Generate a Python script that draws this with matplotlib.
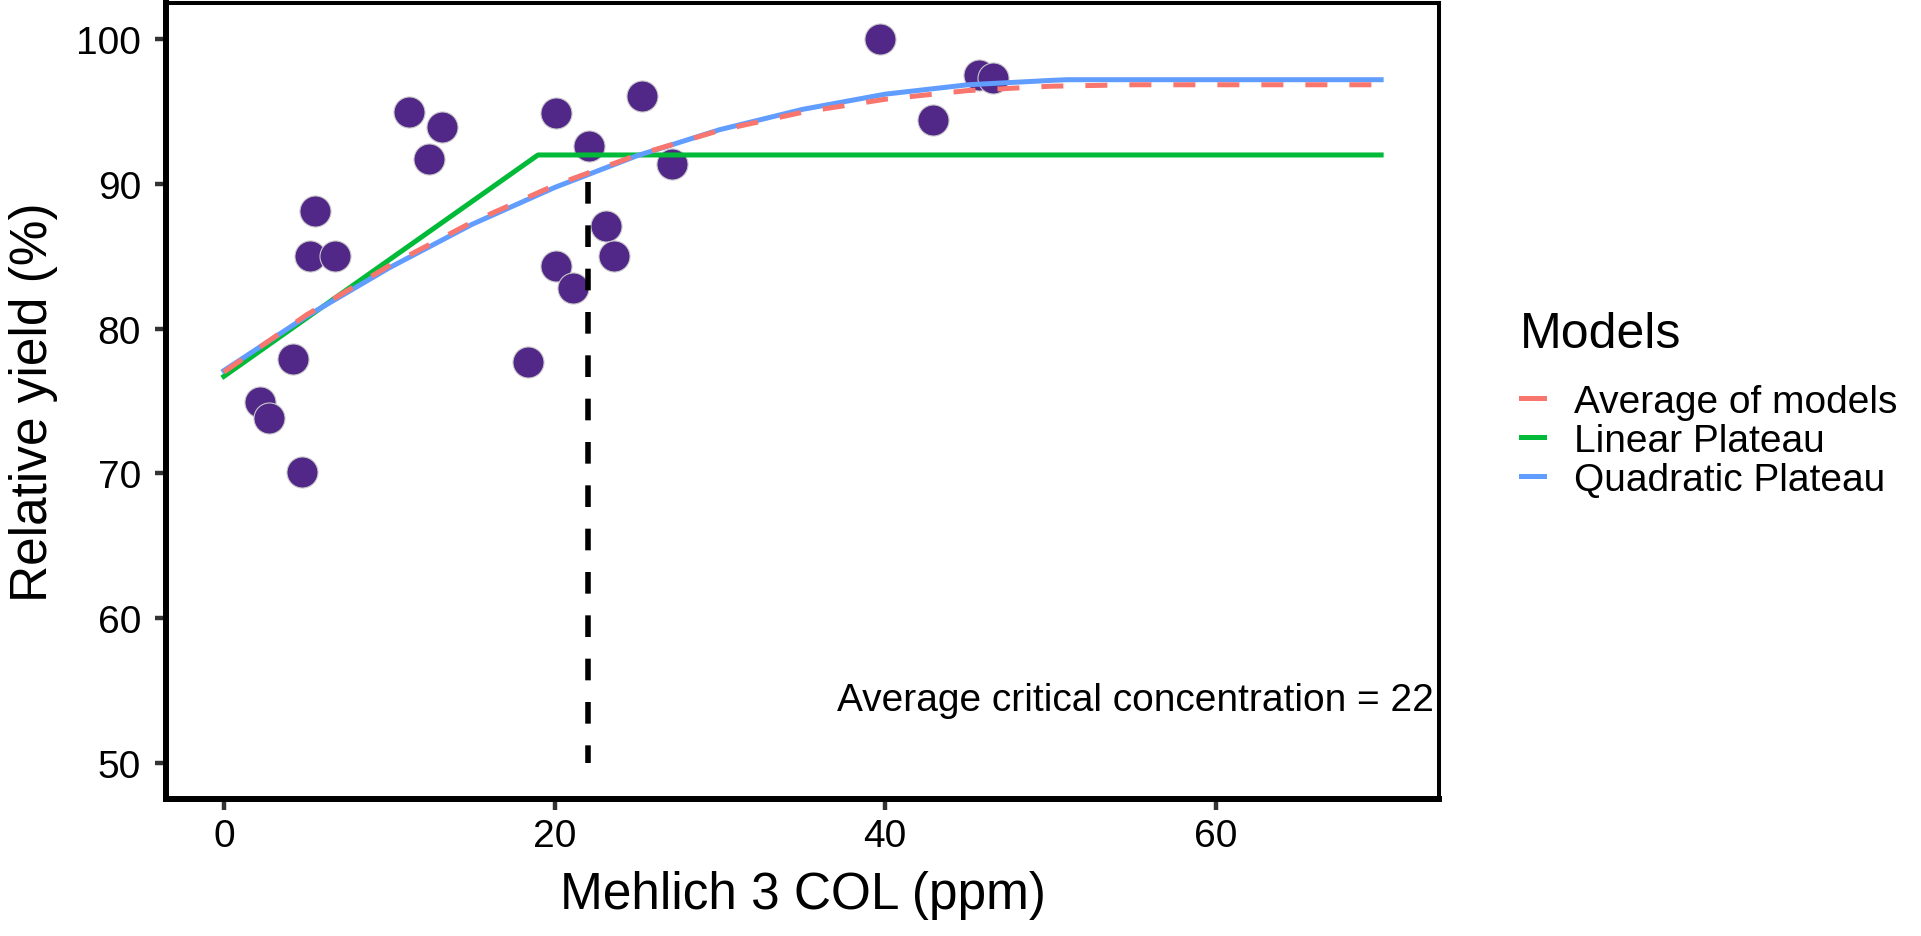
import numpy as np
import matplotlib
matplotlib.use("Agg")
import matplotlib.pyplot as plt
from matplotlib.lines import Line2D

plt.rcParams['font.family'] = ['Liberation Sans', 'DejaVu Sans']

# observed data: Mehlich 3 COL (ppm) vs relative yield (%)
stp = [2.2, 2.7, 4.2, 4.7, 5.5, 5.2, 6.7, 11.2, 13.2, 12.4, 20.1, 22.1, 25.3, 27.1,
       23.1, 23.6, 20.1, 21.1, 18.4, 39.7, 45.7, 46.5, 42.9]
ry = [74.9, 73.8, 77.9, 70.1, 88.1, 85.0, 85.0, 95.0, 93.9, 91.7, 94.9, 92.6, 96.1, 91.4,
      87.1, 85.0, 84.3, 82.8, 77.7, 100.0, 97.5, 97.3, 94.4]

# fitted model curves
lp_x = [0, 19, 70]
lp_y = [76.7, 92.0, 92.0]

qp_x = [0, 5, 10, 15, 20, 25, 30, 35, 40, 45, 50, 51, 70]
qp_y = [77.1, 80.85, 84.2, 87.2, 89.75, 91.95, 93.75, 95.15, 96.2, 96.85, 97.15, 97.2, 97.2]

avg_x = [0, 5, 10, 15, 20, 25, 30, 35, 40, 45, 50, 55, 70]
avg_y = [77.0, 80.95, 84.35, 87.35, 89.9, 92.0, 93.7, 94.95, 95.85, 96.45, 96.75, 96.85, 96.85]

crit_x = 22
crit_top = 90.1
crit_bottom = 50

model_names = ["Average of models", "Linear Plateau", "Quadratic Plateau"]
model_colors = ["#F8766D", "#00BA38", "#619CFF"]

W, H = 1921, 937
fig = plt.figure(figsize=(W / 100, H / 100), dpi=100)
ax = fig.add_axes([166 / W, 137 / H, (1439 - 166) / W, (800 - 4) / H])

ax.scatter(stp, ry, s=500, color="#512888", edgecolor="#c8c8c8", linewidth=0.8, zorder=2)

ax.plot(lp_x, lp_y, color=model_colors[1], lw=3.6, zorder=3)
ax.plot(qp_x, qp_y, color=model_colors[2], lw=3.6, zorder=4)
ax.plot(avg_x, avg_y, color=model_colors[0], lw=3.6, dashes=(4.4, 4.4), zorder=5)
ax.plot([crit_x, crit_x], [crit_top, crit_bottom], color="black", lw=4, dashes=(3.9, 3.9), zorder=6)

ax.text(73.2, 53.65, f"Average critical concentration = {crit_x}", ha="right", va="baseline",
        fontsize=28, color="black")

ax.set_xlim(-3.5, 73.5)
ax.set_ylim(47.5, 102.5)
ax.set_xticks([0, 20, 40, 60])
ax.set_yticks([50, 60, 70, 80, 90, 100])

for side in ["left", "bottom"]:
    ax.spines[side].set_linewidth(4.3)
for side in ["top", "right"]:
    ax.spines[side].set_linewidth(2.9)
for sp in ax.spines.values():
    sp.set_color("black")

ax.tick_params(axis="both", length=8, width=3.2, color="#333333", labelsize=28, labelcolor="black")
ax.tick_params(axis="x", pad=6)
ax.tick_params(axis="y", pad=10)

ax.set_xlabel("Mehlich 3 COL (ppm)", fontsize=37, labelpad=11)
ax.set_ylabel("Relative yield (%)", fontsize=37, labelpad=13)

# legend, laid out by hand to match the ggplot guide spacing
fig.text(1520 / W, 1 - 348 / H, "Models", fontsize=36, ha="left", va="baseline")
for i, (name, col) in enumerate(zip(model_names, model_colors)):
    yc = 399 + 39 * i
    fig.add_artist(Line2D([1521 / W, 1544 / W], [1 - yc / H, 1 - yc / H], color=col, lw=3.6,
                          transform=fig.transFigure))
    fig.text(1574 / W, 1 - (yc + 14) / H, name, fontsize=28, ha="left", va="baseline")

fig.savefig("out.png", dpi=100)
